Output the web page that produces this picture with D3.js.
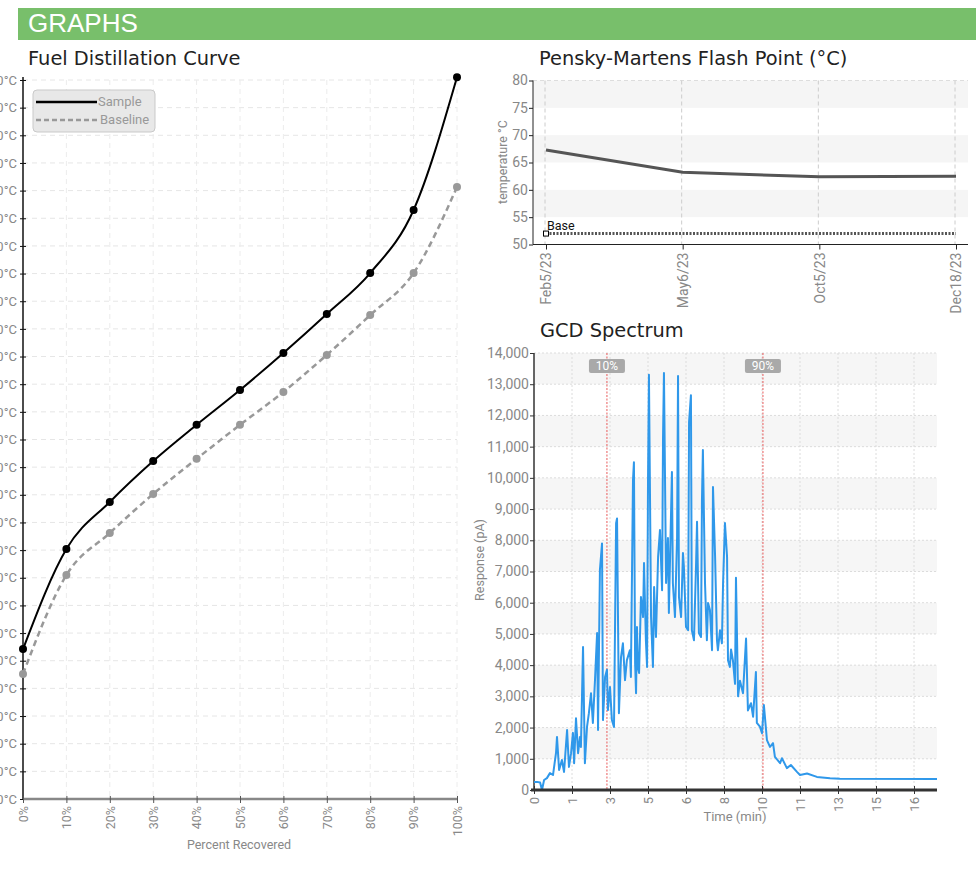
<!DOCTYPE html>
<html>
<head>
<meta charset="utf-8" />
<title>Graphs</title>
<script src="https://cdn.jsdelivr.net/npm/d3@7"></script>
<style>
  body { margin: 0; background: #fff; }
  svg text { font-family: Roboto, "Liberation Sans", sans-serif; }
  svg text.title { font-family: "DejaVu Sans", Verdana, sans-serif; font-size: 19.4px; fill: #222; }
  svg text.head { font-family: "Liberation Sans", Arial, sans-serif; font-size: 26px; fill: #fff; }
  .tick text { fill: #888; }
</style>
</head>
<body>
<script>
// ---- distillation curve
var distPercent = [0, 10, 20, 30, 40, 50, 60, 70, 80, 90, 100];
var distSample = [154.2, 190.4, 207.4, 222.2, 235.3, 247.9, 261.3, 275.4, 290.2, 313.0, 361.0];
var distBaseline = [145.2, 181.0, 196.2, 210.3, 223.0, 235.3, 247.2, 260.6, 275.0, 290.2, 321.3];
var distTempTicks = [100, 110, 120, 130, 140, 150, 160, 170, 180, 190, 200, 210, 220, 230,
                     240, 250, 260, 270, 280, 290, 300, 310, 320, 330, 340, 350, 360];

// ---- flash point
var flashDates = ["Feb5/23", "May6/23", "Oct5/23", "Dec18/23"];
var flashValues = [67.3, 63.2, 62.4, 62.5];
var flashBase = 52;
var flashTicks = [50, 55, 60, 65, 70, 75, 80];

// ---- GCD spectrum (time in min, response in pA)
var gcdTime = [0.00, 0.13, 0.26, 0.34, 0.43, 0.55, 0.68, 0.81, 0.94, 0.98, 1.07, 1.19, 1.28, 1.41,
  1.49, 1.58, 1.66, 1.71, 1.79, 1.88, 1.96, 2.00, 2.09, 2.17, 2.26, 2.34, 2.43, 2.51, 2.60, 2.69,
  2.73, 2.81, 2.90, 2.94, 3.03, 3.11, 3.15, 3.24, 3.32, 3.41, 3.50, 3.54, 3.62, 3.71, 3.79, 3.88,
  3.96, 4.09, 4.13, 4.22, 4.26, 4.31, 4.35, 4.39, 4.43, 4.48, 4.56, 4.65, 4.69, 4.77, 4.82, 4.86,
  4.90, 4.99, 5.07, 5.12, 5.20, 5.29, 5.37, 5.46, 5.50, 5.54, 5.63, 5.71, 5.75, 5.88, 5.92, 6.01,
  6.10, 6.14, 6.18, 6.27, 6.35, 6.39, 6.48, 6.57, 6.61, 6.69, 6.73, 6.82, 6.91, 6.95, 7.03, 7.12,
  7.16, 7.20, 7.29, 7.37, 7.42, 7.50, 7.59, 7.63, 7.72, 7.80, 7.84, 7.93, 8.01, 8.06, 8.14, 8.23,
  8.27, 8.35, 8.40, 8.48, 8.57, 8.61, 8.70, 8.78, 8.91, 9.04, 9.12, 9.25, 9.34, 9.46, 9.50, 9.63,
  9.72, 9.80, 9.93, 10.06, 10.19, 10.27, 10.49, 10.57, 10.78, 10.95, 11.21, 11.34, 11.64, 12.06,
  12.62, 13.04, 17.18];
var gcdResp = [260, 260, 240, 0, 320, 380, 540, 480, 1200, 1700, 640, 960, 580, 1920,
  740, 1180, 1830, 860, 2300, 1180, 1700, 1380, 4580, 860, 2020, 2460, 3100, 2150, 3520, 5030,
  1920, 7050, 7900, 2240, 3620, 3850, 2560, 3300, 2240, 2020, 8550, 8700, 2460, 4260, 4700, 3520,
  4160, 4480, 3620, 9930, 10500, 4070, 3100, 5220, 3940, 3750, 6180, 5540, 7270, 4800, 3940, 9840,
  13300, 5540, 3940, 6500, 4900, 7470, 8330, 6400, 11280, 13360, 6630, 8070, 5670, 10190, 6630, 5540,
  8100, 13260, 6180, 5540, 7590, 7150, 5220, 5120, 11790, 12650, 5120, 4800, 7270, 8590, 5030, 4900,
  9290, 10890, 6630, 4800, 5990, 5770, 4480, 9710, 7470, 4800, 4480, 5120, 4700, 6630, 8550, 7470,
  4160, 3940, 4500, 4150, 3400, 6800, 3000, 3500, 3100, 4850, 2550, 2780, 2350, 3780, 2150, 2030,
  1820, 2720, 1600, 1380, 1500, 1060, 860, 1020, 700, 800, 580, 480, 530, 420,
  380, 360, 350];
var gcdTickTimes = [0, 1.62, 3.24, 4.86, 6.48, 8.10, 9.72, 11.34, 12.96, 14.58, 16.20];
var gcdTickLabels = ["0", "1", "3", "5", "6", "8", "10", "11", "13", "15", "16"];
var gcdYTicks = [0, 1000, 2000, 3000, 4000, 5000, 6000, 7000, 8000, 9000, 10000, 11000, 12000, 13000, 14000];
var gcdMarkLabels = ["10%", "90%"];
var gcdMarkTimes = [3.11, 9.76];

var svg = d3.select("body").append("svg")
  .attr("width", 976)
  .attr("height", 876);

// header bar
svg.append("rect").attr("x", 18).attr("y", 8).attr("width", 958).attr("height", 32).attr("fill", "#78bf6b");
svg.append("text").attr("class", "head").attr("x", 28).attr("y", 32).text("GRAPHS");

// ================= Fuel Distillation Curve =================
(function () {
  var x = d3.scaleLinear().domain([0, 100]).range([23, 457]);
  var y = d3.scaleLinear().domain([100, 360]).range([799, 80]);

  svg.append("text").attr("class", "title").attr("x", 28).attr("y", 65).text("Fuel Distillation Curve");

  var g = svg.append("g");
  // grid
  g.selectAll("line.hg").data(distTempTicks).enter().append("line")
    .attr("x1", x(0)).attr("x2", x(100))
    .attr("y1", function (d) { return y(d); }).attr("y2", function (d) { return y(d); })
    .attr("stroke", "#e6e6e6").attr("stroke-dasharray", "5,4");
  g.selectAll("line.vg").data(distPercent.slice(1)).enter().append("line")
    .attr("x1", function (d) { return x(d); }).attr("x2", function (d) { return x(d); })
    .attr("y1", y(360)).attr("y2", y(100))
    .attr("stroke", "#ececec").attr("stroke-dasharray", "5,4");

  // y axis (labels run off the left edge, as in the source)
  var ya = g.append("g").attr("transform", "translate(23,0)")
    .call(d3.axisLeft(y).tickValues(distTempTicks).tickSize(3).tickFormat(function (d) { return d + "°C"; }));
  ya.select(".domain").attr("stroke", "#111").attr("stroke-width", 1.5).attr("d", "M0," + (y(360) - 3) + "V" + y(100));
  ya.selectAll(".tick line").attr("x1", 3).attr("x2", -3).attr("stroke", "#111");
  ya.selectAll(".tick text").attr("x", -6).style("font-size", "13px");

  // x axis
  var xa = g.append("g").attr("transform", "translate(0,799)")
    .call(d3.axisBottom(x).tickValues(distPercent).tickSize(4).tickFormat(function (d) { return d + "%"; }));
  xa.select(".domain").attr("stroke", "#888").attr("stroke-width", 2.5).attr("d", "M23,0H458");
  xa.selectAll(".tick line").attr("y1", -3).attr("y2", 4).attr("stroke", "#555");
  xa.selectAll(".tick text")
    .attr("transform", "rotate(-90)").attr("text-anchor", "end")
    .attr("x", -7).attr("y", 0).attr("dy", "0.35em").style("font-size", "12.5px");
  g.append("text").attr("x", 239).attr("y", 849).attr("text-anchor", "middle")
    .attr("fill", "#888").style("font-size", "12.5px").text("Percent Recovered");

  var line = function (vals) {
    return d3.line().curve(d3.curveMonotoneX)
      .x(function (d, i) { return x(distPercent[i]); })
      .y(function (d) { return y(d); })(vals);
  };
  g.append("path").attr("d", line(distBaseline)).attr("fill", "none")
    .attr("stroke", "#999").attr("stroke-width", 2.5).attr("stroke-dasharray", "6,4");
  g.append("path").attr("d", line(distSample)).attr("fill", "none")
    .attr("stroke", "#000").attr("stroke-width", 2);
  g.selectAll("circle.b").data(distBaseline).enter().append("circle")
    .attr("cx", function (d, i) { return x(distPercent[i]); }).attr("cy", function (d) { return y(d); })
    .attr("r", 4).attr("fill", "#999");
  g.selectAll("circle.s").data(distSample).enter().append("circle")
    .attr("cx", function (d, i) { return x(distPercent[i]); }).attr("cy", function (d) { return y(d); })
    .attr("r", 4).attr("fill", "#000");

  // legend
  var lg = g.append("g");
  lg.append("rect").attr("x", 33).attr("y", 90).attr("width", 122).attr("height", 42).attr("rx", 4)
    .attr("fill", "#e8e8e8").attr("stroke", "#c9c9c9");
  lg.append("line").attr("x1", 36).attr("x2", 97).attr("y1", 102).attr("y2", 102)
    .attr("stroke", "#000").attr("stroke-width", 2.5);
  lg.append("text").attr("x", 98).attr("y", 106).attr("fill", "#999").style("font-size", "13px").text("Sample");
  lg.append("line").attr("x1", 36).attr("x2", 99).attr("y1", 120).attr("y2", 120)
    .attr("stroke", "#999").attr("stroke-width", 2.5).attr("stroke-dasharray", "5,3");
  lg.append("text").attr("x", 100).attr("y", 124).attr("fill", "#999").style("font-size", "13px").text("Baseline");
})();

// ================= Pensky-Martens Flash Point =================
(function () {
  var x = d3.scalePoint().domain(flashDates).range([546, 956]);
  var y = d3.scaleLinear().domain([50, 80]).range([244.5, 80.5]);
  var left = 533, right = 968;

  svg.append("text").attr("class", "title").attr("x", 539).attr("y", 65).text("Pensky-Martens Flash Point (°C)");
  var g = svg.append("g");

  // bands
  g.selectAll("rect.band").data([75, 65, 55]).enter().append("rect")
    .attr("x", left).attr("width", right - left)
    .attr("y", function (d) { return y(d + 5); })
    .attr("height", function (d) { return y(d) - y(d + 5); })
    .attr("fill", "#f5f5f5");
  g.append("line").attr("x1", left).attr("x2", right).attr("y1", y(80)).attr("y2", y(80))
    .attr("stroke", "#ddd").attr("stroke-dasharray", "4,3");
  g.selectAll("line.vg").data(flashDates).enter().append("line")
    .attr("x1", function (d) { return x(d) - 1; }).attr("x2", function (d) { return x(d) - 1; })
    .attr("y1", y(80)).attr("y2", y(50))
    .attr("stroke", "#ccc").attr("stroke-dasharray", "4,3");

  var ya = g.append("g").attr("transform", "translate(" + left + ",0)")
    .call(d3.axisLeft(y).tickValues(flashTicks).tickSize(4));
  ya.select(".domain").attr("stroke", "#222").attr("d", "M0," + y(80) + "V" + y(50));
  ya.selectAll(".tick line").attr("stroke", "#222");
  ya.selectAll(".tick text").style("font-size", "14px").attr("x", -5);

  var xa = g.append("g").attr("transform", "translate(0," + y(50) + ")")
    .call(d3.axisBottom(x).tickSize(5));
  xa.select(".domain").attr("stroke", "#222").attr("d", "M" + left + ",0H" + right);
  xa.selectAll(".tick line").attr("stroke", "#222");
  xa.selectAll(".tick text")
    .attr("transform", "rotate(-90)").attr("text-anchor", "end")
    .attr("x", -8).attr("y", 0).attr("dy", "0.35em").style("font-size", "14px");

  g.append("text").attr("transform", "translate(507,162) rotate(-90)").attr("text-anchor", "middle")
    .attr("fill", "#888").style("font-size", "12.5px").text("temperature °C");

  // base line
  g.append("line").attr("x1", x(flashDates[0])).attr("x2", x(flashDates[3]))
    .attr("y1", y(flashBase)).attr("y2", y(flashBase))
    .attr("stroke", "#555").attr("stroke-width", 3).attr("stroke-dasharray", "2,1.5");
  g.append("rect").attr("x", x(flashDates[0]) - 2.5).attr("y", y(flashBase) - 2.5)
    .attr("width", 5).attr("height", 5).attr("fill", "#fff").attr("stroke", "#000");
  g.append("text").attr("x", x(flashDates[0]) + 1).attr("y", y(flashBase) - 4)
    .attr("fill", "#111").style("font-size", "12.5px").text("Base");

  g.append("path")
    .attr("d", d3.line().x(function (d, i) { return x(flashDates[i]); }).y(function (d) { return y(d); })(flashValues))
    .attr("fill", "none").attr("stroke", "#555").attr("stroke-width", 3);
})();

// ================= GCD Spectrum =================
(function () {
  var left = 534, right = 937, top = 353, bottom = 790;
  var x = d3.scaleLinear().domain([0, 17.18]).range([left, right]);
  var y = d3.scaleLinear().domain([0, 14000]).range([bottom, top]);

  svg.append("text").attr("class", "title").attr("x", 540).attr("y", 337).text("GCD Spectrum");
  var g = svg.append("g");

  var bandStarts = gcdYTicks.filter(function (d) { return d % 2000 === 1000; });
  g.selectAll("rect.band").data(bandStarts).enter().append("rect")
    .attr("x", left).attr("width", right - left)
    .attr("y", function (d) { return y(d + 1000); })
    .attr("height", function (d) { return y(d) - y(d + 1000); })
    .attr("fill", "#f6f6f6");
  g.selectAll("line.hg").data(gcdYTicks.slice(1)).enter().append("line")
    .attr("x1", left).attr("x2", right)
    .attr("y1", function (d) { return y(d); }).attr("y2", function (d) { return y(d); })
    .attr("stroke", "#dcdcdc").attr("stroke-dasharray", "2,2");
  g.selectAll("line.vg").data(gcdTickTimes.slice(1)).enter().append("line")
    .attr("x1", function (d) { return x(d); }).attr("x2", function (d) { return x(d); })
    .attr("y1", top).attr("y2", bottom)
    .attr("stroke", "#dcdcdc").attr("stroke-dasharray", "2,2");

  // 10% / 90% markers
  g.selectAll("line.mk").data(gcdMarkTimes).enter().append("line")
    .attr("x1", function (d) { return x(d); }).attr("x2", function (d) { return x(d); })
    .attr("y1", top).attr("y2", bottom)
    .attr("stroke", "#e85a5a").attr("stroke-dasharray", "2,1.5");
  var mk = g.selectAll("g.mk").data(gcdMarkTimes).enter().append("g")
    .attr("transform", function (d) { return "translate(" + x(d) + ",366)"; });
  mk.append("rect").attr("x", -18).attr("y", -7).attr("width", 36).attr("height", 14).attr("rx", 2)
    .attr("fill", "#a9a9a9");
  mk.append("text").attr("text-anchor", "middle").attr("dy", "0.35em").attr("fill", "#fff")
    .style("font-size", "12px").text(function (d, i) { return gcdMarkLabels[i]; });

  var ya = g.append("g").attr("transform", "translate(" + left + ",0)")
    .call(d3.axisLeft(y).tickValues(gcdYTicks).tickSize(4).tickFormat(d3.format(",")));
  ya.select(".domain").attr("stroke", "#333").attr("stroke-width", 1.5).attr("d", "M0," + top + "V" + bottom);
  ya.selectAll(".tick line").attr("stroke", "#333");
  ya.selectAll(".tick text").style("font-size", "14px").attr("x", -5);

  g.append("text").attr("transform", "translate(484,560) rotate(-90)").attr("text-anchor", "middle")
    .attr("fill", "#888").style("font-size", "12.5px").text("Response (pA)");

  g.append("path")
    .attr("d", d3.line().x(function (d, i) { return x(gcdTime[i]); }).y(function (d) { return y(d); })(gcdResp))
    .attr("fill", "none").attr("stroke", "#2f98ea").attr("stroke-width", 2).attr("stroke-linejoin", "round");

  var xa = g.append("g").attr("transform", "translate(0," + bottom + ")")
    .call(d3.axisBottom(x).tickValues(gcdTickTimes).tickSize(5)
      .tickFormat(function (d, i) { return gcdTickLabels[i]; }));
  xa.select(".domain").attr("stroke", "#333").attr("stroke-width", 3).attr("d", "M" + (left - 3) + ",0H" + right);
  xa.selectAll(".tick line").attr("y1", -4).attr("y2", 4).attr("stroke", "#333");
  xa.selectAll(".tick text")
    .attr("transform", "rotate(-90)").attr("text-anchor", "end")
    .attr("x", -7).attr("y", 0).attr("dy", "0.35em").style("font-size", "13px");
  g.append("text").attr("x", 735).attr("y", 821).attr("text-anchor", "middle")
    .attr("fill", "#888").style("font-size", "13px").text("Time (min)");
})();
</script>
</body>
</html>
